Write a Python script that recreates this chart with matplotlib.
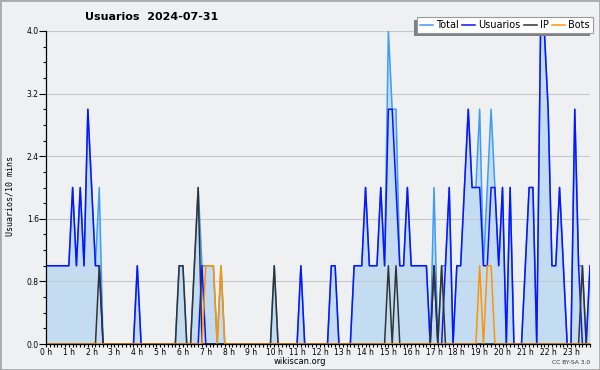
import matplotlib
matplotlib.use("Agg")
import matplotlib.pyplot as plt
import numpy as np
from matplotlib.ticker import MultipleLocator, FixedLocator

# values per 10-minute slot, one row per hour
total = [
    1, 1, 1, 1, 1, 1,
    1, 2, 1, 2, 1, 3,
    2, 1, 2, 0, 0, 0,
    0, 0, 0, 0, 0, 0,
    1, 0, 0, 0, 0, 0,
    0, 0, 0, 0, 0, 1,
    1, 0, 0, 1, 2, 1,
    1, 1, 1, 0, 1, 0,
    0, 0, 0, 0, 0, 0,
    0, 0, 0, 0, 0, 0,
    1, 0, 0, 0, 0, 0,
    0, 1, 0, 0, 0, 0,
    0, 0, 0, 1, 1, 0,
    0, 0, 0, 1, 1, 1,
    2, 1, 1, 1, 2, 1,
    4, 3, 3, 1, 1, 2,
    1, 1, 1, 1, 1, 0,
    2, 0, 1, 1, 2, 0,
    1, 1, 2, 3, 2, 2,
    3, 1, 2, 3, 2, 1,
    2, 0, 2, 0, 0, 0,
    1, 2, 2, 0, 4, 4,
    3, 1, 1, 2, 1, 0,
    0, 3, 1, 1, 0, 1,
]
usuarios = [
    1, 1, 1, 1, 1, 1,
    1, 2, 1, 2, 1, 3,
    2, 1, 1, 0, 0, 0,
    0, 0, 0, 0, 0, 0,
    1, 0, 0, 0, 0, 0,
    0, 0, 0, 0, 0, 0,
    0, 0, 0, 0, 0, 1,
    0, 0, 0, 0, 0, 0,
    0, 0, 0, 0, 0, 0,
    0, 0, 0, 0, 0, 0,
    0, 0, 0, 0, 0, 0,
    0, 1, 0, 0, 0, 0,
    0, 0, 0, 1, 1, 0,
    0, 0, 0, 1, 1, 1,
    2, 1, 1, 1, 2, 1,
    3, 3, 2, 1, 1, 2,
    1, 1, 1, 1, 1, 0,
    1, 0, 0, 1, 2, 0,
    1, 1, 2, 3, 2, 2,
    2, 1, 1, 2, 2, 1,
    2, 0, 2, 0, 0, 0,
    1, 2, 2, 0, 4, 4,
    3, 1, 1, 2, 1, 0,
    0, 3, 1, 0, 0, 1,
]
ip = [0] * 144
for slot, v in [(14, 1), (35, 1), (36, 1), (39, 1), (40, 2), (60, 1),
                (90, 1), (92, 1), (102, 1), (104, 1), (141, 1)]:
    ip[slot] = v
bots = [0] * 144
for slot, v in [(42, 1), (43, 1), (44, 1), (46, 1), (114, 1), (116, 1), (117, 1)]:
    bots[slot] = v

hour_labels = [f"{h} h" for h in range(24)]
series_colors = {"Total": "#3d9df5", "Usuarios": "#0a14ff", "IP": "#333333", "Bots": "#ff9400"}

bg = "#eff0f1"
slots = np.arange(len(total))

fig = plt.figure(figsize=(6, 3.7), dpi=100, facecolor=bg)
ax = fig.add_axes([46 / 600, 1 - 344 / 370, 544 / 600, 313 / 370])
ax.set_facecolor(bg)

ax.fill_between(slots, 0, total, color="#c4dcf1", lw=0, zorder=1)
lines = []
for name, data in [("Total", total), ("Usuarios", usuarios), ("IP", ip), ("Bots", bots)]:
    ln, = ax.plot(slots, data, color=series_colors[name], lw=1.1, label=name, zorder=3)
    lines.append(ln)

ax.set_xlim(0, 143)
ax.set_ylim(0, 4)
ax.xaxis.set_major_locator(FixedLocator(np.arange(0, 144, 6)))
ax.set_xticklabels(hour_labels)
ax.xaxis.set_minor_locator(MultipleLocator(1))
yt = np.arange(0, 4.01, 0.8)
ax.set_yticks(yt)
ax.set_yticklabels([f"{v:.1f}" for v in yt])
ax.yaxis.set_minor_locator(MultipleLocator(0.2))
ax.tick_params(which="both", direction="out", color="black", width=0.8, labelsize=5.5)
ax.tick_params(axis="x", which="both", length=2.3, pad=0.3)
ax.tick_params(axis="y", which="major", length=4.7, pad=0.5)
ax.tick_params(axis="y", which="minor", length=2.4)
ax.grid(axis="y", color="#c8c8c8", lw=0.8, zorder=0)
for s in ["top", "right"]:
    ax.spines[s].set_visible(False)
for s in ["left", "bottom"]:
    ax.spines[s].set_linewidth(0.9)
    ax.spines[s].set_zorder(4)

fig.text(10 / 600, 1 - 196 / 370, "Usuarios/10 mins", family="DejaVu Sans Mono",
         fontsize=6, rotation=90, ha="center", va="center")
fig.text(0.5, 1 - 361 / 370, "wikiscan.org", fontsize=6, ha="center", va="center")
fig.text(85 / 600, 1 - 17 / 370, "Usuarios  2024-07-31", fontsize=8,
         fontweight="bold", va="center", ha="left")
fig.text(590 / 600, 1 - 363 / 370, "CC BY-SA 3.0", fontsize=4.3, ha="right",
         va="center", color="#333333")

leg = fig.legend(handles=lines, loc="upper right", bbox_to_anchor=(593 / 600, 1 - 17 / 370),
                 ncol=4, fontsize=7, frameon=True, fancybox=False, shadow=False,
                 edgecolor="#9a9a9a", framealpha=1, borderpad=0.3, handlelength=1.3,
                 handletextpad=0.35, columnspacing=0.35, borderaxespad=0)
leg.get_frame().set_linewidth(0.8)
leg.set_zorder(10)

# legend shadow, offset to the lower left
fig.canvas.draw()
bb = leg.get_window_extent()
fig.add_artist(plt.Rectangle((bb.x0 - 3, bb.y0 - 3), bb.width, bb.height,
                             transform=None, facecolor="#808080", lw=0, zorder=9))

fig.add_artist(plt.Rectangle((0, 0), 1, 1, transform=fig.transFigure, fill=False,
                             edgecolor="#aaaaaa", lw=2))

fig.savefig("out.png", dpi=100, facecolor=bg)
